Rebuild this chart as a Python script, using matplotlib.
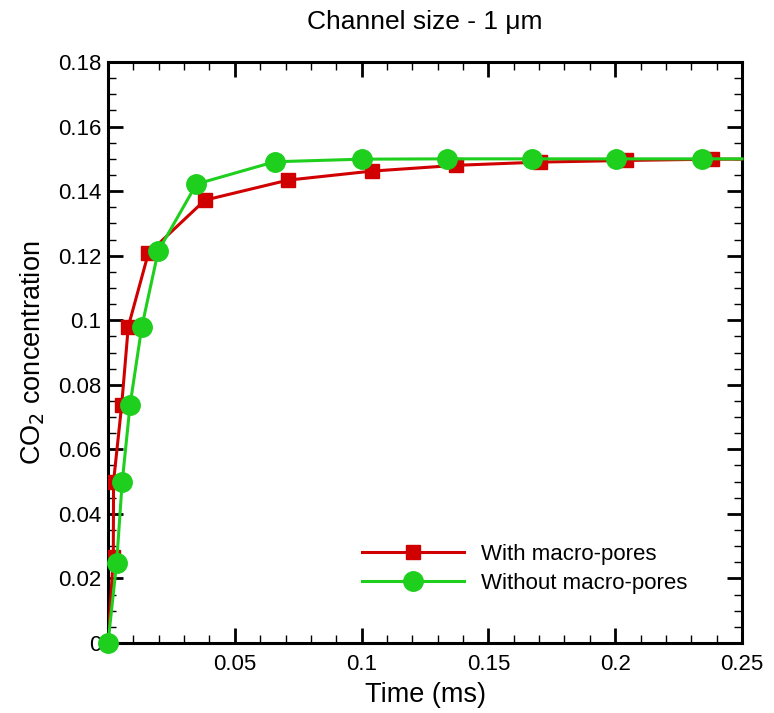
import matplotlib.pyplot as plt
from matplotlib.ticker import MultipleLocator, FuncFormatter

plt.rcParams["font.family"] = ["Liberation Sans", "DejaVu Sans"]

# time (ms) and CO2 concentration
t_with = [0.0, 0.0021, 0.0022, 0.0054, 0.0080, 0.0159, 0.0382, 0.0709,
          0.1040, 0.1374, 0.1705, 0.2043, 0.2380, 0.25]
c_with = [0.0, 0.0265, 0.0500, 0.0737, 0.0980, 0.1207, 0.1372, 0.1434,
          0.1462, 0.1480, 0.1490, 0.1495, 0.1499, 0.1499]
m_with = list(range(1, 13))

t_without = [0.0, 0.0034, 0.0056, 0.0087, 0.0133, 0.0198, 0.0349, 0.0657,
             0.1000, 0.1335, 0.1670, 0.2004, 0.2343, 0.25]
c_without = [0.0, 0.0247, 0.0498, 0.0737, 0.0978, 0.1214, 0.1422, 0.1491,
             0.1499, 0.1500, 0.1500, 0.1500, 0.1500, 0.1500]
m_without = list(range(0, 13))


def tick_label(v, pos):
    if abs(v) < 1e-12:
        return "0"
    return ("%.3f" % v).rstrip("0").rstrip(".")


fig = plt.figure(figsize=(7.74, 7.13), dpi=100)
ax = fig.add_axes([0.1395, 0.0982, 0.8192, 0.8148])

ax.plot(t_with, c_with, color="#d00000", lw=2.2, marker="s", ms=10.5,
        markevery=m_with, label="With macro-pores", zorder=3)
ax.plot(t_without, c_without, color="#1ecf1e", lw=2.2, marker="o", ms=14,
        markevery=m_without, label="Without macro-pores", zorder=4,
        clip_on=False)

ax.set_xlim(0, 0.25)
ax.set_ylim(0, 0.18)
ax.xaxis.set_major_locator(MultipleLocator(0.05))
ax.xaxis.set_minor_locator(MultipleLocator(0.01))
ax.yaxis.set_major_locator(MultipleLocator(0.02))
ax.yaxis.set_minor_locator(MultipleLocator(0.005))
# no "0" under the x axis, only on the y axis
ax.xaxis.set_major_formatter(FuncFormatter(lambda v, p: "" if abs(v) < 1e-12 else tick_label(v, p)))
ax.yaxis.set_major_formatter(FuncFormatter(tick_label))

ax.tick_params(which="both", direction="in", top=True, right=True, labelsize=16)
ax.tick_params(which="major", length=11, width=2)
ax.tick_params(which="minor", length=5.5, width=1)
ax.tick_params(axis="x", pad=8)
ax.tick_params(axis="y", pad=5)
for s in ax.spines.values():
    s.set_linewidth(2.2)

ax.set_xlabel("Time (ms)", fontsize=19.5, labelpad=5)
ax.set_ylabel("CO$_2$ concentration", fontsize=19.5, labelpad=8)
ax.set_title("Channel size - 1 \u03bcm", fontsize=19, pad=24)

ax.legend(loc="lower right", bbox_to_anchor=(0.945, 0.05), frameon=False,
          fontsize=16, handlelength=4.6, labelspacing=0.35, handletextpad=0.75)

fig.savefig("out.png", dpi=100)
